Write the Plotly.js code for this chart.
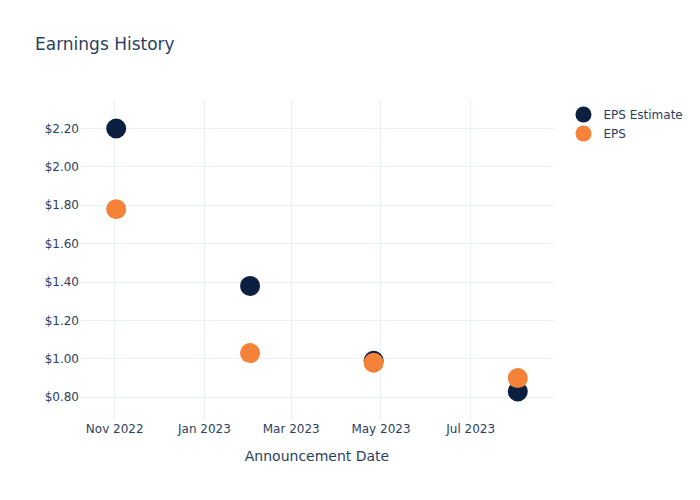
<!DOCTYPE html>
<html>
<head>
<meta charset="utf-8">
<script src="https://cdn.plot.ly/plotly-3.0.1.min.js"></script>
<style>html,body{margin:0;padding:0;background:#fff;}#chart{width:700px;height:500px;}</style>
</head>
<body>
<div id="chart"></div>
<script>
const dates = ["2022-11-02", "2023-02-01", "2023-04-26", "2023-08-02"];
const epsEstimate = [2.20, 1.38, 0.99, 0.83];
const epsActual = [1.78, 1.03, 0.98, 0.90];
const seriesNames = ["EPS Estimate", "EPS"];

const traces = [
  {x: dates, y: epsEstimate, name: seriesNames[0], type: "scatter", mode: "markers",
   marker: {size: 20, color: "#0b1f41"}},
  {x: dates, y: epsActual, name: seriesNames[1], type: "scatter", mode: "markers",
   marker: {size: 20, color: "#f58239"}}
];

const layout = {
  template: "plotly_white",
  width: 700, height: 500,
  font: {family: "DejaVu Sans, sans-serif", color: "#2a3f5f"},
  title: {text: "Earnings History", x: 0.05},
  paper_bgcolor: "#fff", plot_bgcolor: "#fff",
  xaxis: {type: "date", title: {text: "Announcement Date", standoff: 16}, gridcolor: "#EBF0F8", zeroline: false, ticks: ""},
  yaxis: {tickprefix: "$", tickformat: ".2f", gridcolor: "#EBF0F8", zeroline: false, dtick: 0.2},
  margin: {l: 80, r: 80, t: 100, b: 80}
};

Plotly.newPlot("chart", traces, layout, {displayModeBar: false});
</script>
</body>
</html>
